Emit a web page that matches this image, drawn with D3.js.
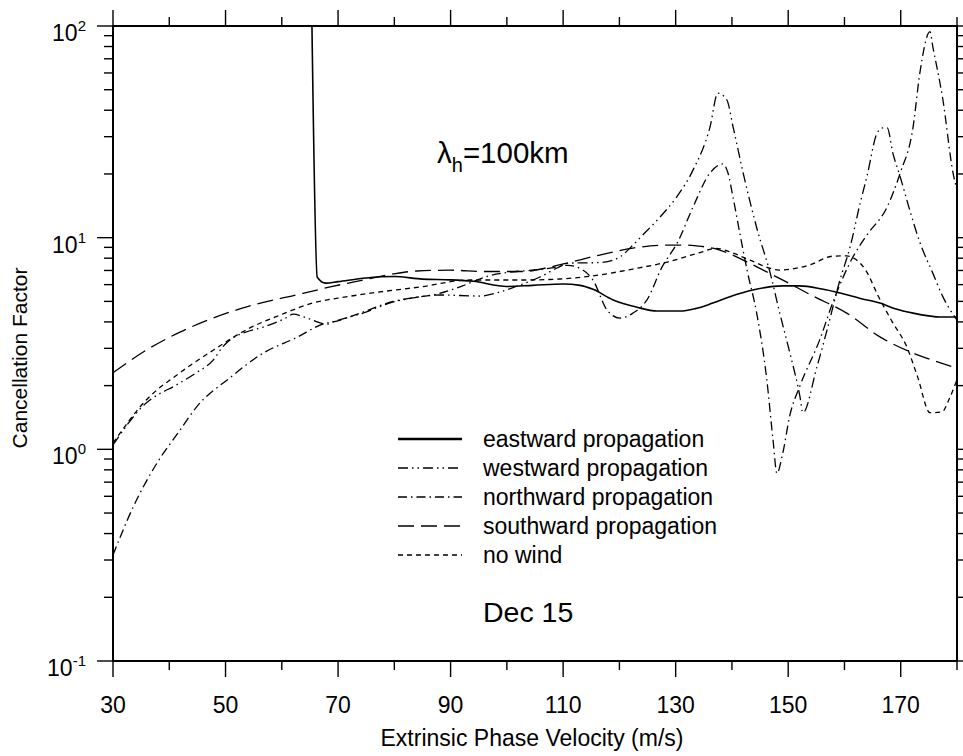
<!DOCTYPE html>
<html>
<head>
<meta charset="utf-8">
<script src="https://cdn.jsdelivr.net/npm/d3@7"></script>
<style>
  html, body { margin: 0; padding: 0; background: #fff; }
  svg text { font-family: "Liberation Sans", Arial, Helvetica, sans-serif; fill: #000; }
</style>
</head>
<body>
<svg id="chart" width="963" height="756"></svg>
<script>
// Axis tick values
const xMajorTicks = [30, 50, 70, 90, 110, 130, 150, 170];
const xMinorTicks = [40, 60, 80, 100, 120, 140, 160, 180];
const yDecadeExponents = [-1, 0, 1, 2];
const yMinorMultipliers = [2, 3, 4, 5, 6, 7, 8, 9];

// Cancellation factor vs extrinsic phase velocity (m/s), pairs [velocity, factor]
const eastward = [
  [65.3, 130], [66.3, 6.5], [67.8, 6.1], [70, 6.2], [75, 6.45], [80, 6.55], [85, 6.37],
  [90, 6.32], [94, 6.22], [100, 5.88], [104.6, 5.95], [110, 6.04], [113, 5.95],
  [115.3, 5.7], [118.9, 5.08], [123, 4.7], [126.7, 4.5], [130.8, 4.5], [133.5, 4.62],
  [136.6, 4.91], [140, 5.3], [143.7, 5.66], [149, 5.92], [152, 5.92], [156, 5.72],
  [159.2, 5.48], [163, 5.15], [166.3, 4.91], [169, 4.62], [172.2, 4.4], [175, 4.27],
  [177, 4.22], [180, 4.22]
];
const westward = [
  [30, 1.05], [35.3, 1.6], [41.9, 2.06], [44.8, 2.3], [47.8, 2.64], [49.5, 3.05],
  [51.3, 3.36], [53.6, 3.58], [56.7, 3.78], [60.7, 4.17], [62, 4.35], [64.5, 4.17],
  [68, 3.9], [69.1, 4.0], [74.4, 4.4], [79.8, 4.97], [83.3, 5.19], [88.1, 5.36],
  [95.2, 5.3], [98.8, 5.54], [102.3, 5.97], [105.9, 6.52], [108.9, 7.19], [111.2, 7.59],
  [114, 7.6], [117, 7.65], [120.1, 8.11], [122, 9.0], [124, 10.2], [127.2, 12.5],
  [130.2, 15.6], [133.1, 20.9], [136.1, 33.3], [137.5, 48.2], [139.1, 44.7],
  [140.2, 33.4], [142, 20.2], [144.5, 10.9], [146.8, 6.8], [148.5, 4.4], [150.3, 2.85],
  [152.1, 1.77], [152.6, 1.49], [155.1, 2.45], [156.9, 3.66], [159.2, 6.31], [161, 9.04],
  [162.8, 14.6], [164, 19.5], [165.8, 31.2], [166.8, 33], [167.6, 33], [168.6, 25.1],
  [169.9, 19.4], [171.6, 13.5], [173.4, 9.5], [175.7, 6.8], [177.5, 5.25], [180, 4.08]
];
const northward = [
  [30, 0.317], [33.6, 0.535], [37.8, 0.86], [41.9, 1.23], [44.8, 1.58], [50.8, 2.18],
  [56.7, 2.85], [62.5, 3.36], [67.9, 3.95], [69.1, 4.0], [74.4, 4.45], [79.8, 5.0],
  [83.3, 5.2], [88, 5.45], [92, 5.9], [96, 6.5], [100, 6.85], [104, 7.0], [108, 7.2],
  [110.8, 7.4], [113.5, 7.03], [115.3, 6.31], [117.8, 4.55], [120.1, 4.17], [122.4, 4.4],
  [124.9, 5.08], [127.5, 7.2], [130.5, 9.7], [133.1, 14.0], [136.1, 20.2], [138.4, 22.3],
  [139.3, 20.2], [140.2, 15.5], [141.4, 10.5], [142.7, 7.0], [144.4, 4.4], [146.2, 2.13],
  [147.3, 1.11], [148, 0.77], [149, 0.95], [150.3, 1.45], [152.1, 2.0], [155.6, 3.29],
  [158, 5.0], [161.5, 8.1], [164, 10.3], [167.6, 14.0], [169.9, 20.2], [172.2, 33.4],
  [173.4, 60], [175.2, 94], [175.7, 80], [177.5, 44.7], [179.3, 20.2], [180, 16.8]
];
const southward = [
  [30, 2.3], [35.9, 2.94], [41.9, 3.58], [47.8, 4.17], [53.6, 4.7], [62.5, 5.36],
  [68.6, 5.85], [74.4, 6.31], [79.8, 6.74], [84, 6.96], [90, 7.02], [96, 6.92],
  [103, 6.92], [107, 7.2], [110.7, 7.59], [116.5, 8.28], [122.4, 8.93], [128.5, 9.23],
  [131.3, 9.23], [134.5, 9.1], [137.3, 8.83], [140, 8.3], [143, 7.6], [148.8, 6.35],
  [154.4, 5.3], [160.4, 4.4], [166.3, 3.4], [172.2, 2.85], [176, 2.62], [180, 2.42]
];
const noWind = [
  [30, 1.07], [35.9, 1.71], [41.9, 2.3], [47.8, 2.94], [53.6, 3.66], [59.7, 4.31],
  [65.5, 4.91], [71.4, 5.25], [77.4, 5.54], [84.6, 5.85], [93.4, 6.31], [103, 6.31],
  [109.4, 6.38], [116.5, 6.67], [122.4, 7.11], [128.5, 7.67], [134.3, 8.5], [137.2, 8.9],
  [140, 8.5], [143.2, 7.83], [148.5, 7.03], [153.8, 7.43], [158, 8.18], [160.4, 8.2],
  [162, 7.9], [163.8, 7.0], [166, 5.3], [168.5, 4.0], [171.1, 3.04], [173, 2.2],
  [175.2, 1.49], [177.3, 1.5], [178.7, 1.75], [180, 2.13]
];

const seriesNames = ["eastward propagation", "westward propagation", "northward propagation",
                     "southward propagation", "no wind"];
const seriesData = [eastward, westward, northward, southward, noWind];
const seriesDash = [null, "10,4,1.5,4,1.5,4", "9,4,1.5,4", "16,7", "5,4"];
const seriesWidth = [1.6, 1.3, 1.3, 1.3, 1.3];

const svg = d3.select("#chart");
const margin = { left: 113, right: 957, top: 26, bottom: 661 };

const x = d3.scaleLinear().domain([30, 180]).range([margin.left, margin.right]);
const y = d3.scaleLog().domain([0.1, 100]).range([margin.bottom, margin.top]);

svg.append("defs").append("clipPath").attr("id", "plotClip")
  .append("rect")
  .attr("x", margin.left).attr("y", margin.top)
  .attr("width", margin.right - margin.left).attr("height", margin.bottom - margin.top);

// Curves
const line = d3.line()
  .x(d => x(d[0]))
  .y(d => y(d[1]))
  .curve(d3.curveMonotoneX);

const curves = svg.append("g").attr("clip-path", "url(#plotClip)");
seriesData.forEach((data, i) => {
  curves.append("path")
    .datum(data)
    .attr("d", line)
    .attr("fill", "none")
    .attr("stroke", "#000")
    .attr("stroke-width", seriesWidth[i])
    .attr("stroke-dasharray", seriesDash[i])
    .attr("stroke-linejoin", "round");
});

// Ticks (outward on all four sides)
const ticks = svg.append("g").attr("stroke", "#000").attr("stroke-width", 1.4);
const majorLen = 16, minorLen = 9;
function xTick(v, len) {
  ticks.append("line").attr("x1", x(v)).attr("x2", x(v))
    .attr("y1", margin.bottom).attr("y2", margin.bottom + len);
  ticks.append("line").attr("x1", x(v)).attr("x2", x(v))
    .attr("y1", margin.top).attr("y2", margin.top - len);
}
function yTick(v, len) {
  ticks.append("line").attr("y1", y(v)).attr("y2", y(v))
    .attr("x1", margin.left).attr("x2", margin.left - len);
  ticks.append("line").attr("y1", y(v)).attr("y2", y(v))
    .attr("x1", margin.right).attr("x2", margin.right + len);
}
xMajorTicks.forEach(v => xTick(v, majorLen));
xMinorTicks.forEach(v => xTick(v, minorLen));
yDecadeExponents.forEach(e => yTick(Math.pow(10, e), majorLen));
yDecadeExponents.slice(0, -1).forEach(e =>
  yMinorMultipliers.forEach(m => yTick(m * Math.pow(10, e), minorLen)));

// Frame
svg.append("rect")
  .attr("x", margin.left).attr("y", margin.top)
  .attr("width", margin.right - margin.left).attr("height", margin.bottom - margin.top)
  .attr("fill", "none").attr("stroke", "#000").attr("stroke-width", 2);

// X tick labels
svg.append("g").selectAll("text").data(xMajorTicks).join("text")
  .attr("x", d => x(d)).attr("y", 713)
  .attr("text-anchor", "middle")
  .attr("font-size", 23)
  .text(d => d);

// Y tick labels as powers of ten
const yLabels = svg.append("g").selectAll("text").data(yDecadeExponents).join("text")
  .attr("x", 86).attr("y", d => y(Math.pow(10, d)) + 15)
  .attr("text-anchor", "end")
  .attr("font-size", 23);
yLabels.append("tspan").text("10");
yLabels.append("tspan").attr("dy", -10).attr("font-size", 15).text(d => d);

// Axis titles
svg.append("text")
  .attr("x", 532).attr("y", 746)
  .attr("text-anchor", "middle")
  .attr("font-size", 23)
  .text("Extrinsic Phase Velocity (m/s)");
svg.append("text")
  .attr("transform", "translate(27,358) rotate(-90)")
  .attr("text-anchor", "middle")
  .attr("font-size", 21)
  .text("Cancellation Factor");

// Annotations
const lam = svg.append("text").attr("x", 437).attr("y", 163).attr("font-size", 29.5);
lam.append("tspan").text("λ");
lam.append("tspan").attr("dy", 9).attr("font-size", 20).text("h");
lam.append("tspan").attr("dy", -9).text("=100km");

svg.append("text").attr("x", 483).attr("y", 622).attr("font-size", 28.5).text("Dec 15");

// Legend
const legend = svg.append("g");
seriesNames.forEach((name, i) => {
  const ly = 439 + i * 29;
  legend.append("line")
    .attr("x1", 398).attr("x2", 462).attr("y1", ly).attr("y2", ly)
    .attr("stroke", "#000")
    .attr("stroke-width", i === 0 ? 2.6 : 1.3)
    .attr("stroke-dasharray", seriesDash[i]);
  legend.append("text")
    .attr("x", 483).attr("y", ly + 8)
    .attr("font-size", 23)
    .text(name);
});
</script>
</body>
</html>
